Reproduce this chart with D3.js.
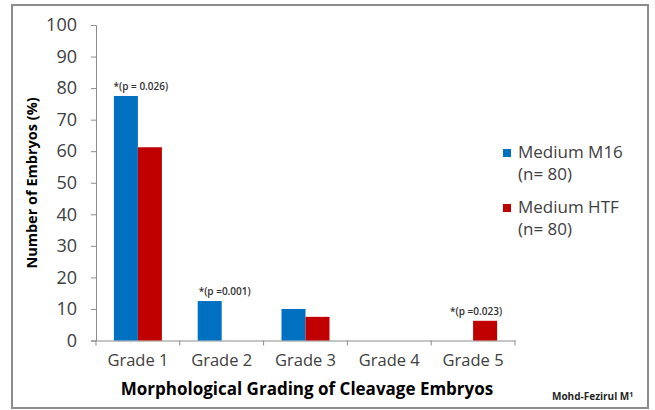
<!DOCTYPE html>
<html lang="en">
<head>
<meta charset="utf-8">
<title>Morphological Grading of Cleavage Embryos</title>
<script src="https://cdn.jsdelivr.net/npm/d3@7"></script>
<style>
  body { margin: 0; background: #fff; }
  text { font-family: "Open Sans", Lato, sans-serif; }
</style>
</head>
<body>
<svg id="chart" width="655" height="410"></svg>
<script>
// data
var grades = ["Grade 1", "Grade 2", "Grade 3", "Grade 4", "Grade 5"];
var seriesNames = ["Medium M16", "Medium HTF"];
var m16 = [77.5, 12.5, 10, 0, 0];
var htf = [61.25, 0, 7.5, 0, 6.25];
var pNotes = [
  { grade: "Grade 1", label: "*(p = 0.026)", value: 77.5 },
  { grade: "Grade 2", label: "*(p =0.001)", value: 12.5 },
  { grade: "Grade 5", label: "*(p =0.023)", value: 6.25 }
];
var yTicks = [0, 10, 20, 30, 40, 50, 60, 70, 80, 90, 100];
var colors = ["#0070C0", "#C00000"];

var svg = d3.select("#chart");

// outer frame
svg.append("rect")
  .attr("x", 12).attr("y", 5)
  .attr("width", 636).attr("height", 403)
  .attr("fill", "#fff")
  .attr("stroke", "#8c8c8c").attr("stroke-width", 2);

var x = d3.scaleBand().domain(grades).range([96, 515]);
var xSub = d3.scaleBand().domain([0, 1]).range([x.bandwidth() / 2 - 24, x.bandwidth() / 2 + 24]);
var y = d3.scaleLinear().domain([0, 100]).range([340.5, 25]);

// y axis
var yAxis = svg.append("g")
  .attr("transform", "translate(96,0)")
  .call(d3.axisLeft(y).tickValues(yTicks).tickSizeOuter(0).tickSize(5).tickPadding(14));
yAxis.select(".domain").attr("stroke", "#8c8c8c");
yAxis.selectAll(".tick line").attr("stroke", "#8c8c8c");
yAxis.selectAll(".tick text")
  .attr("fill", "#404040")
  .style("font-size", "18px");

// x axis
var xAxis = svg.append("g")
  .attr("transform", "translate(0,340.5)")
  .call(d3.axisBottom(x).tickSize(0).tickPadding(14));
xAxis.select(".domain").attr("stroke", "#8c8c8c");
xAxis.selectAll(".tick text")
  .attr("fill", "#404040")
  .style("font-size", "16.5px");
// category boundary ticks
xAxis.selectAll("line.sep")
  .data(grades.concat(["end"]))
  .enter().append("line")
  .attr("class", "sep")
  .attr("x1", function (d, i) { return i < grades.length ? x(d) : x.range()[1]; })
  .attr("x2", function (d, i) { return i < grades.length ? x(d) : x.range()[1]; })
  .attr("y1", 0).attr("y2", 5)
  .attr("stroke", "#8c8c8c");

// bars
var series = [m16, htf];
series.forEach(function (vals, s) {
  svg.append("g").selectAll("rect")
    .data(vals)
    .enter().append("rect")
    .attr("x", function (d, i) { return x(grades[i]) + xSub(s); })
    .attr("width", xSub.bandwidth())
    .attr("y", function (d) { return y(d); })
    .attr("height", function (d) { return y(0) - y(d); })
    .attr("fill", colors[s]);
});

// p-value notes
svg.append("g").selectAll("text")
  .data(pNotes)
  .enter().append("text")
  .attr("x", function (d) { return x(d.grade) + x.bandwidth() / 2 + 3; })
  .attr("y", function (d) { return y(d.value) - 6; })
  .attr("text-anchor", "middle")
  .attr("fill", "#333")
  .style("font-size", "10px")
  .style("font-weight", "600")
  .text(function (d) { return d.label; });

// axis titles
svg.append("text")
  .attr("transform", "translate(37,183) rotate(-90)")
  .attr("text-anchor", "middle")
  .attr("fill", "#000")
  .style("font-size", "14.5px")
  .style("font-weight", "bold")
  .text("Number of Embryos (%)");

svg.append("text")
  .attr("x", 307).attr("y", 395)
  .attr("text-anchor", "middle")
  .attr("fill", "#000")
  .style("font-size", "17px")
  .style("font-weight", "bold")
  .text("Morphological Grading of Cleavage Embryos");

// legend
var legend = svg.append("g").selectAll("g")
  .data(seriesNames)
  .enter().append("g")
  .attr("transform", function (d, i) { return "translate(503," + (149 + i * 55) + ")"; });
legend.append("rect")
  .attr("width", 8).attr("height", 8)
  .attr("fill", function (d, i) { return colors[i]; });
legend.append("text")
  .attr("x", 15).attr("y", 9)
  .attr("fill", "#404040")
  .style("font-size", "17px")
  .text(function (d) { return d; });
legend.append("text")
  .attr("x", 15).attr("y", 31)
  .attr("fill", "#404040")
  .style("font-size", "17px")
  .text("(n= 80)");

// credit
var credit = svg.append("text")
  .attr("x", 552).attr("y", 400)
  .attr("fill", "#262626")
  .style("font-size", "10px")
  .style("font-weight", "bold")
  .text("Mohd-Fezirul M");
credit.append("tspan")
  .attr("dy", -3)
  .style("font-size", "7px")
  .text("1");
</script>
</body>
</html>
